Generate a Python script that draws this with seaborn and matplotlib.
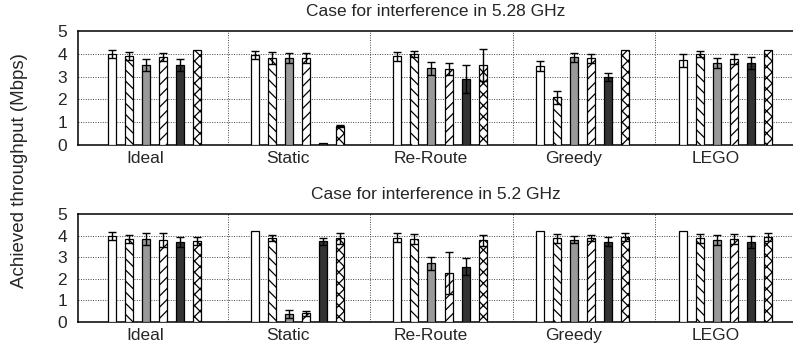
import numpy as np
import pandas as pd
import seaborn as sns
import matplotlib.pyplot as plt

cases = ["Ideal", "Static", "Re-Route", "Greedy", "LEGO"]
series = ["s1", "s2", "s3", "s4", "s5", "s6"]

# mean throughput, one row per series, one value per case
top_mean = [
    [3.98, 3.95, 3.90, 3.48, 3.71],
    [3.90, 3.80, 3.99, 2.09, 3.99],
    [3.51, 3.80, 3.36, 3.85, 3.58],
    [3.85, 3.80, 3.32, 3.80, 3.76],
    [3.51, 0.07, 2.91, 2.97, 3.58],
    [4.15, 0.83, 3.51, 4.17, 4.17],
]
top_err = [
    [0.18, 0.16, 0.20, 0.22, 0.29],
    [0.18, 0.26, 0.15, 0.29, 0.15],
    [0.26, 0.22, 0.28, 0.20, 0.22],
    [0.18, 0.22, 0.26, 0.20, 0.22],
    [0.26, 0.00, 0.62, 0.18, 0.26],
    [0.00, 0.05, 0.70, 0.00, 0.00],
]
bot_mean = [
    [3.98, 4.20, 3.90, 4.20, 4.22],
    [3.84, 3.87, 3.83, 3.87, 3.87],
    [3.83, 0.37, 2.72, 3.81, 3.80],
    [3.80, 0.40, 2.25, 3.87, 3.84],
    [3.70, 3.73, 2.56, 3.72, 3.69],
    [3.75, 3.87, 3.78, 3.92, 3.92],
]
bot_err = [
    [0.20, 0.00, 0.20, 0.00, 0.00],
    [0.20, 0.14, 0.23, 0.20, 0.20],
    [0.28, 0.18, 0.31, 0.15, 0.23],
    [0.31, 0.10, 0.97, 0.14, 0.23],
    [0.22, 0.18, 0.39, 0.20, 0.28],
    [0.20, 0.27, 0.25, 0.18, 0.18],
]
titles = ["Case for interference in 5.28 GHz", "Case for interference in 5.2 GHz"]

facecolors = ["white", "white", "#999999", "white", "#333333", "white"]
hatches = ["", "\\\\\\", "", "///", "", "xxx"]

sns.set_style("white")
plt.rcParams["font.family"] = ["Liberation Sans", "DejaVu Sans"]
plt.rcParams["hatch.linewidth"] = 0.9

fig = plt.figure(figsize=(7.93, 3.49), dpi=100)
W, H = 793, 349
ax_top = fig.add_axes([78 / W, 1 - 145 / H, (802 - 78) / W, (145 - 31) / H])
ax_bot = fig.add_axes([78 / W, 1 - 322 / H, (802 - 78) / W, (322 - 214) / H])


def panel(ax, mean, err, title):
    df = pd.DataFrame(
        [(c, s, mean[j][i]) for j, s in enumerate(series) for i, c in enumerate(cases)],
        columns=["case", "series", "value"],
    )
    sns.barplot(data=df, x="case", y="value", hue="series", order=cases,
                hue_order=series, palette=facecolors, saturation=1,
                width=0.716, gap=0.53, edgecolor="black", linewidth=0.9,
                errorbar=None, legend=False, ax=ax, zorder=3)
    bar_conts = list(ax.containers)
    for j, cont in enumerate(bar_conts):
        xs, ys, es = [], [], []
        for i, bar in enumerate(cont):
            bar.set_hatch(hatches[j])
            if err[j][i] > 0:
                xs.append(bar.get_x() + bar.get_width() / 2)
                ys.append(mean[j][i])
                es.append(err[j][i])
        ax.errorbar(xs, ys, yerr=es, fmt="none", ecolor="black",
                    elinewidth=1, capsize=3, capthick=1, zorder=4)

    ax.set_ylim(0, 5)
    ax.set_yticks(range(6))
    ax.set_xlim(-0.54, 4.54)
    # labels sit under the third bar of each cluster
    ax.set_xticks(np.arange(len(cases)) - 0.065)
    ax.set_xticklabels(cases)
    ax.set_xlabel("")
    ax.set_ylabel("")
    ax.tick_params(axis="both", length=0, labelsize=12.5)
    ax.tick_params(axis="x", pad=4)
    ax.tick_params(axis="y", pad=8)
    for y in range(1, 5):
        ax.axhline(y, color="#444444", linestyle=(0, (1, 1.5)), linewidth=0.7, zorder=1)
    for k in range(len(cases) - 1):
        ax.axvline(k + 0.51, color="#444444", linestyle=(0, (1, 1.5)), linewidth=0.7, zorder=1)
    for side in ["top", "left", "bottom"]:
        ax.spines[side].set_visible(True)
        ax.spines[side].set_color("black")
        ax.spines[side].set_linewidth(1.1)
    ax.spines["right"].set_visible(False)
    ax.set_title(title, fontsize=12.5, pad=10.5, x=(436 - 78) / (802 - 78))


panel(ax_top, top_mean, top_err, titles[0])
panel(ax_bot, bot_mean, bot_err, titles[1])

fig.text(20 / W, 1 - 171 / H, "Achieved throughput (Mbps)", rotation=90,
         ha="center", va="center", fontsize=13.5)

fig.savefig("out.png", dpi=100)
